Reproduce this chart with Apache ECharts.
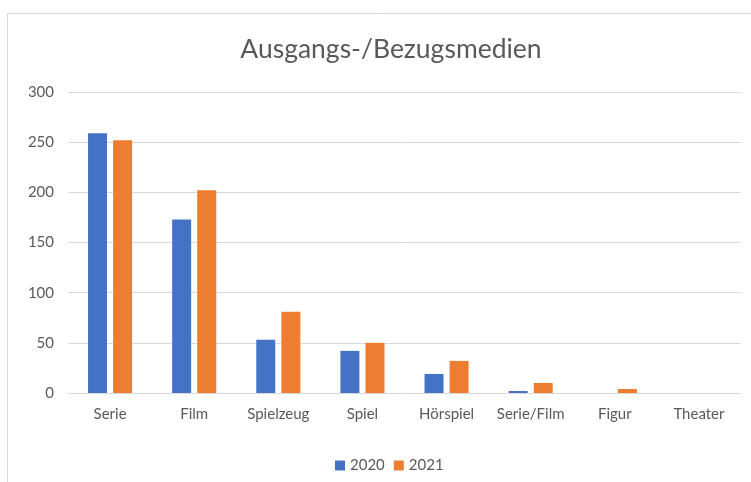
<!DOCTYPE html>
<html>
<head>
<meta charset="utf-8">
<script src="https://cdn.jsdelivr.net/npm/echarts@6/dist/echarts.min.js"></script>
<style>html,body{margin:0;padding:0;background:#fff;}#c{width:751px;height:482px;}</style>
</head>
<body>
<div id="c"></div>
<script>
const categories = ['Serie', 'Film', 'Spielzeug', 'Spiel', 'Hörspiel', 'Serie/Film', 'Figur', 'Theater'];
const values2020 = [259, 173, 53, 42, 19, 2, 0, 0];
const values2021 = [252, 202, 81, 50, 32, 10, 4, 0];
const seriesNames = ['2020', '2021'];

const FONT = '"Liberation Sans Narrow", Lato, "Open Sans", sans-serif';
const chart = echarts.init(document.getElementById('c'));
chart.setOption({
  animation: false,
  backgroundColor: '#ffffff',
  title: {
    text: 'Ausgangs-/Bezugsmedien',
    left: 386, top: 31, textAlign: 'center',
    textStyle: { fontFamily: FONT, fontSize: 26.5, fontWeight: 'normal', color: '#595959' }
  },
  legend: {
    data: seriesNames,
    left: 330, top: 453,
    itemWidth: 10, itemHeight: 10, itemGap: 9,
    icon: 'rect',
    textStyle: { fontFamily: FONT, fontSize: 15, color: '#595959' }
  },
  grid: { left: 68, right: 10, top: 92, bottom: 89, containLabel: false },
  xAxis: {
    type: 'category',
    data: categories,
    axisLine: { lineStyle: { color: '#d9d9d9', width: 1 } },
    axisTick: { show: false },
    axisLabel: { fontFamily: FONT, fontSize: 15, color: '#595959', margin: 14, interval: 0 }
  },
  yAxis: {
    type: 'value', min: 0, max: 300, interval: 50,
    axisLine: { show: false }, axisTick: { show: false },
    splitLine: { lineStyle: { color: '#d9d9d9', width: 1 } },
    axisLabel: { fontFamily: FONT, fontSize: 15, color: '#595959', margin: 14 }
  },
  series: [
    { name: seriesNames[0], type: 'bar', data: values2020, barWidth: 19, barGap: '32%', itemStyle: { color: '#4472C4' } },
    { name: seriesNames[1], type: 'bar', data: values2021, barWidth: 19, itemStyle: { color: '#ED7D31' } }
  ],
  graphic: [
    { type: 'line', shape: { x1: 7.5, y1: 13.5, x2: 751, y2: 13.5 }, style: { stroke: '#d9d9d9', lineWidth: 1 } },
    { type: 'line', shape: { x1: 7.5, y1: 13.5, x2: 7.5, y2: 482 }, style: { stroke: '#d9d9d9', lineWidth: 1 } }
  ]
});
</script>
</body>
</html>
